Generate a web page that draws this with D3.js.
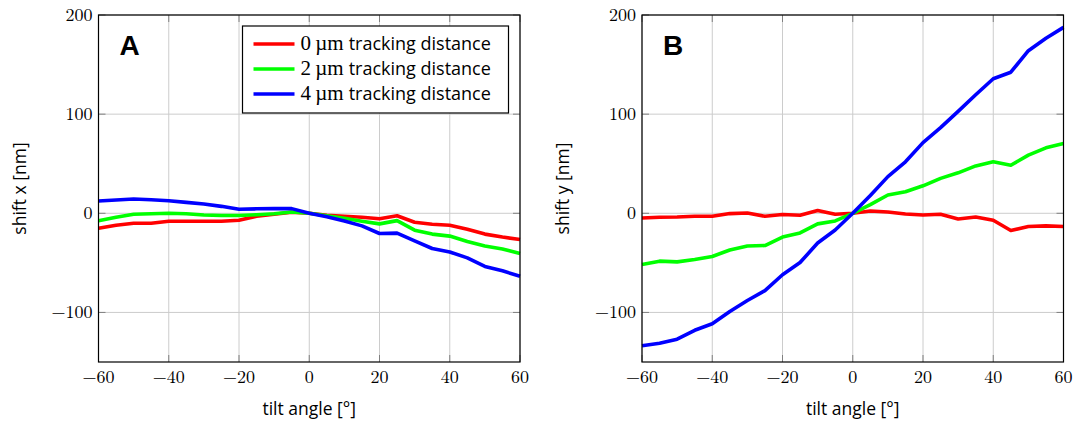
<!DOCTYPE html>
<html>
<head>
<meta charset="utf-8">
<script src="https://cdn.jsdelivr.net/npm/d3@7"></script>
<style>
  html, body { margin: 0; padding: 0; background: #fff; }
  svg { display: block; }
  .tick-label { font-family: "Latin Modern Roman", "Liberation Serif", "DejaVu Serif", serif; font-size: 18px; fill: #000; }
  .axis-label { font-family: "Open Sans", "DejaVu Sans", sans-serif; font-size: 17.5px; fill: #000; }
  .panel-label { font-family: "Liberation Sans", Arial, sans-serif; font-size: 28px; font-weight: bold; fill: #000; }
  .legend-num { font-family: "Liberation Serif", "DejaVu Serif", serif; font-size: 21px; }
  .legend-txt { font-family: "Open Sans", "DejaVu Sans", sans-serif; font-size: 18px; }
</style>
</head>
<body>
<svg id="chart" width="1075" height="422"></svg>
<script>
// Tilt angles in degrees
const angles = [-60,-55,-50,-45,-40,-35,-30,-25,-20,-15,-10,-5,0,5,10,15,20,25,30,35,40,45,50,55,60];

// Shift in x [nm] for each tracking distance
const shiftX0 = [-15,-12,-10,-10,-8,-8,-8,-8,-7,-3,-1,1,0,-2,-3,-4,-5.5,-2.5,-9,-11,-12,-16,-21,-24,-26.5];
const shiftX2 = [-7.5,-4,-1,-0.5,0,-0.5,-1.7,-2.3,-2.3,-1.5,-0.5,1.3,0,-2.5,-5,-8,-10.7,-7.4,-17,-21,-23,-28.5,-33,-36,-40.5];
const shiftX4 = [12.4,13.4,14.4,13.7,12.7,11,9.4,7,4,4.5,4.7,4.7,0,-3.5,-7.7,-12.7,-20.4,-20,-27.8,-35.5,-39,-45,-53.6,-58,-63.6];

// Shift in y [nm] for each tracking distance
const shiftY0 = [-4.7,-4,-3.7,-3,-3,-0.3,0.3,-3,-1.3,-2,2.7,-1,0,2.3,1.3,-0.7,-1.7,-1,-5.7,-3.7,-7,-17.4,-13.4,-12.7,-13.4];
const shiftY2 = [-51.7,-48.3,-49,-46.6,-43.6,-37,-33,-32.5,-24,-19.8,-10.7,-7.7,0,8.7,18.4,21.7,27.7,35.2,40.8,47.8,51.9,48.5,58.6,66,70.3];
const shiftY4 = [-133.6,-131,-127,-118,-111.4,-99,-88,-78,-62,-49.7,-30,-16.8,0,18,37,51.9,71.3,86.4,102.8,119.6,135.7,142.3,164,176.5,187.5];

const xTicks = [-60,-40,-20,0,20,40,60];
const yTicks = [-100,0,100,200];
const seriesColors = ["#ff0000","#00ff00","#0000ff"];
const seriesNums = ["0", "2", "4"];

const svg = d3.select("#chart");
const fmt = v => v < 0 ? "\u2212" + Math.abs(v) : String(v);

function panel(opts) {
  const { left, right, top, bottom, series, letter, ylabel, legend } = opts;
  const x = d3.scaleLinear().domain([-60, 60]).range([left, right]);
  const y = d3.scaleLinear().domain([-150, 200]).range([bottom, top]);
  const g = svg.append("g");

  // grid
  g.selectAll(".gx").data(xTicks).join("line")
    .attr("x1", d => x(d)).attr("x2", d => x(d)).attr("y1", top).attr("y2", bottom)
    .attr("stroke", "#cccccc").attr("stroke-width", 1);
  g.selectAll(".gy").data(yTicks).join("line")
    .attr("x1", left).attr("x2", right).attr("y1", d => y(d)).attr("y2", d => y(d))
    .attr("stroke", "#cccccc").attr("stroke-width", 1);

  // inward ticks on all four sides
  const tl = 7;
  const tickColor = "#808080";
  xTicks.forEach(t => {
    g.append("line").attr("x1", x(t)).attr("x2", x(t)).attr("y1", bottom).attr("y2", bottom - tl).attr("stroke", tickColor);
    g.append("line").attr("x1", x(t)).attr("x2", x(t)).attr("y1", top).attr("y2", top + tl).attr("stroke", tickColor);
  });
  yTicks.forEach(t => {
    g.append("line").attr("x1", left).attr("x2", left + tl).attr("y1", y(t)).attr("y2", y(t)).attr("stroke", tickColor);
    g.append("line").attr("x1", right).attr("x2", right - tl).attr("y1", y(t)).attr("y2", y(t)).attr("stroke", tickColor);
  });

  // data lines
  const line = d3.line().x((d, i) => x(angles[i])).y(d => y(d));
  series.forEach((s, k) => {
    g.append("path").datum(s).attr("d", line)
      .attr("fill", "none").attr("stroke", seriesColors[k])
      .attr("stroke-width", 3.6).attr("stroke-linejoin", "round");
  });

  // frame
  g.append("rect").attr("x", left).attr("y", top).attr("width", right - left).attr("height", bottom - top)
    .attr("fill", "none").attr("stroke", "#000").attr("stroke-width", 1.2);

  // tick labels
  g.selectAll(".xl").data(xTicks).join("text").attr("class", "tick-label")
    .attr("x", d => x(d)).attr("y", bottom + 21).attr("text-anchor", "middle").text(fmt);
  g.selectAll(".yl").data(yTicks).join("text").attr("class", "tick-label")
    .attr("x", left - 6).attr("y", d => y(d) + 6).attr("text-anchor", "end").text(fmt);

  // axis titles
  g.append("text").attr("class", "axis-label").attr("x", (left + right) / 2).attr("y", 415)
    .attr("text-anchor", "middle").text("tilt angle [\u00b0]");
  g.append("text").attr("class", "axis-label")
    .attr("transform", `translate(${left - 73},${y(25)}) rotate(-90)`)
    .attr("text-anchor", "middle").text(ylabel);

  // panel letter
  g.append("text").attr("class", "panel-label").attr("x", left + 21).attr("y", top + 40).text(letter);

  if (legend) {
    const lx = 242.5, ly = 26, lw = 266, lh = 87;
    g.append("rect").attr("x", lx).attr("y", ly).attr("width", lw).attr("height", lh)
      .attr("fill", "#fff").attr("stroke", "#000").attr("stroke-width", 1.2);
    seriesNums.forEach((n, k) => {
      const yy = ly + 18 + k * 25;
      g.append("line").attr("x1", lx + 11).attr("x2", lx + 52).attr("y1", yy).attr("y2", yy)
        .attr("stroke", seriesColors[k]).attr("stroke-width", 3.6);
      const t = g.append("text").attr("x", lx + 58).attr("y", yy + 6);
      t.append("tspan").attr("class", "legend-num").text(n + "\u2009\u00b5m");
      t.append("tspan").attr("class", "legend-txt").attr("dx", 5).text("tracking distance");
    });
  }
}

panel({ left: 98.5, right: 520, top: 15, bottom: 362, series: [shiftX0, shiftX2, shiftX4],
        letter: "A", ylabel: "shift x [nm]", legend: true });
panel({ left: 642, right: 1063.5, top: 15, bottom: 362, series: [shiftY0, shiftY2, shiftY4],
        letter: "B", ylabel: "shift y [nm]", legend: false });
</script>
</body>
</html>
